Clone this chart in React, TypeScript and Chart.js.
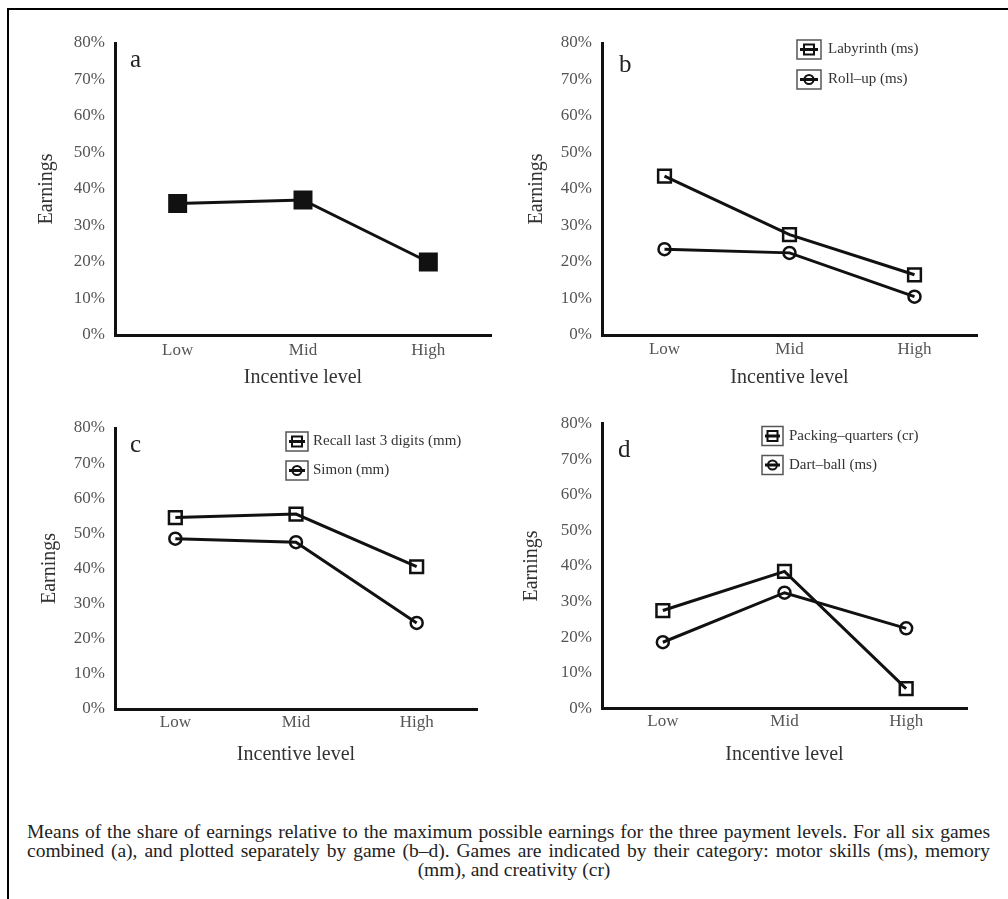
import React, { useEffect, useRef } from 'react';
import { Chart, registerables } from 'chart.js';

Chart.register(...registerables);

// ---------- data ----------
const CATEGORIES = ['Low', 'Mid', 'High'];
const Y_TICK_VALUES = [0, 10, 20, 30, 40, 50, 60, 70, 80];
const X_TITLE = 'Incentive level';
const Y_TITLE = 'Earnings';

const ALL_GAMES = [36, 37, 20];
const LABYRINTH = [43.5, 27.5, 16.5];
const ROLL_UP = [23.5, 22.5, 10.5];
const RECALL = [54.5, 55.5, 40.5];
const SIMON = [48.5, 47.5, 24.5];
const PACKING = [27.5, 38.5, 5.6];
const DART_BALL = [18.6, 32.5, 22.5];

const CAPTION_LINES = [
  'Means of the share of earnings relative to the maximum possible earnings for the three payment levels. For all six games',
  'combined (a), and plotted separately by game (b\u2013d). Games are indicated by their category: motor skills (ms), memory',
  '(mm), and creativity (cr)',
];

// ---------- styling ----------
const SERIF = "'Liberation Serif', 'Times New Roman', 'DejaVu Serif', serif";
const INK = '#111';
const TICK_COLOR = '#555';
const TITLE_COLOR = '#333';
const TITLE_SIZE = 20;
const TITLE_LH = TITLE_SIZE * 1.2;
const TICK_SIZE = 17;
const TICK_LH = TICK_SIZE * 1.2;

type Marker = 'filledSquare' | 'square' | 'circle';

interface SeriesSpec {
  label: string;
  data: number[];
  marker: Marker;
}

interface PanelSpec {
  left: number;
  top: number;
  w: number;
  h: number;
  area: { l: number; r: number; t: number; b: number };
  yTitleX: number;
  xTitleY: number;
  xTickY: number;
  letter: { text: string; x: number; y: number };
  legend?: { x: number; w: number; y: number; gap: number; textX: number };
  series: SeriesSpec[];
}

const PANELS: PanelSpec[] = [
  {
    left: 0, top: 0, w: 504, h: 400,
    area: { l: 115, r: 491, t: 43, b: 335 },
    yTitleX: 47, xTitleY: 378, xTickY: 351,
    letter: { text: 'a', x: 130, y: 67 },
    series: [{ label: 'All six games', data: ALL_GAMES, marker: 'filledSquare' }],
  },
  {
    left: 504, top: 0, w: 504, h: 400,
    area: { l: 98, r: 473, t: 43, b: 335 },
    yTitleX: 32.5, xTitleY: 378, xTickY: 350,
    letter: { text: 'b', x: 115, y: 72 },
    legend: { x: 293, w: 24, y: 49.5, gap: 30, textX: 324 },
    series: [
      { label: 'Labyrinth (ms)', data: LABYRINTH, marker: 'square' },
      { label: 'Roll\u2013up (ms)', data: ROLL_UP, marker: 'circle' },
    ],
  },
  {
    left: 0, top: 400, w: 504, h: 390,
    area: { l: 115, r: 477, t: 28, b: 309 },
    yTitleX: 50, xTitleY: 355, xTickY: 323,
    letter: { text: 'c', x: 130, y: 52 },
    legend: { x: 286, w: 22, y: 41.5, gap: 29, textX: 313 },
    series: [
      { label: 'Recall last 3 digits (mm)', data: RECALL, marker: 'square' },
      { label: 'Simon (mm)', data: SIMON, marker: 'circle' },
    ],
  },
  {
    left: 504, top: 400, w: 504, h: 390,
    area: { l: 98, r: 463, t: 23.5, b: 308.5 },
    yTitleX: 28, xTitleY: 355, xTickY: 321.7,
    letter: { text: 'd', x: 114, y: 57 },
    legend: { x: 258, w: 21, y: 36, gap: 29, textX: 285 },
    series: [
      { label: 'Packing\u2013quarters (cr)', data: PACKING, marker: 'square' },
      { label: 'Dart\u2013ball (ms)', data: DART_BALL, marker: 'circle' },
    ],
  },
];

// ---------- plugins ----------
const decorPlugin = {
  id: 'decor',
  afterDraw(chart: any, _args: any, opts: any) {
    const ctx = chart.ctx as CanvasRenderingContext2D;
    ctx.save();
    if (opts.letter) {
      ctx.font = `25px ${SERIF}`;
      ctx.fillStyle = '#222';
      ctx.textAlign = 'left';
      ctx.textBaseline = 'alphabetic';
      ctx.fillText(opts.letter.text, opts.letter.x, opts.letter.y);
    }
    const lg = opts.legend;
    if (lg) {
      chart.data.datasets.forEach((ds: any, i: number) => {
        const cy = lg.y + i * lg.gap;
        const bh = 19;
        ctx.lineWidth = 1.5;
        ctx.strokeStyle = '#555';
        ctx.strokeRect(lg.x, cy - bh / 2, lg.w, bh);
        ctx.lineWidth = 3;
        ctx.strokeStyle = INK;
        ctx.beginPath();
        ctx.moveTo(lg.x + 3, cy);
        ctx.lineTo(lg.x + lg.w - 3, cy);
        ctx.stroke();
        ctx.lineWidth = 2;
        const cx = lg.x + lg.w / 2;
        ctx.beginPath();
        if (ds.pointStyle === 'circle') {
          ctx.arc(cx, cy, 4.5, 0, Math.PI * 2);
        } else {
          ctx.rect(cx - 5, cy - 5, 10, 10);
        }
        ctx.stroke();
        ctx.font = `15px ${SERIF}`;
        ctx.fillStyle = '#333';
        ctx.textAlign = 'left';
        ctx.textBaseline = 'middle';
        ctx.fillText(ds.label, lg.textX, cy);
      });
    }
    ctx.restore();
  },
};

function buildConfig(spec: PanelSpec): any {
  const { area, w, h } = spec;
  const xScaleBottom = spec.xTitleY + TITLE_LH / 2;
  const datasets = spec.series.map((s) => {
    const filled = s.marker === 'filledSquare';
    const r = filled ? 12 : s.marker === 'circle' ? 6 : 9;
    return {
      label: s.label,
      data: s.data,
      borderColor: INK,
      borderWidth: 3,
      tension: 0,
      fill: false,
      pointStyle: s.marker === 'circle' ? 'circle' : 'rect',
      pointRadius: r,
      pointHoverRadius: r,
      pointBorderWidth: filled ? 2 : 2.5,
      pointBorderColor: INK,
      pointBackgroundColor: filled ? INK : 'rgba(0,0,0,0)',
      clip: false,
    };
  });
  return {
    type: 'line',
    data: { labels: CATEGORIES, datasets },
    plugins: [decorPlugin],
    options: {
      responsive: false,
      animation: false,
      events: [],
      layout: {
        autoPadding: false,
        padding: { left: 0, top: area.t, right: w - area.r, bottom: h - xScaleBottom },
      },
      plugins: {
        legend: { display: false },
        tooltip: { enabled: false },
        decor: { letter: spec.letter, legend: spec.legend },
      },
      scales: {
        x: {
          type: 'category',
          offset: true,
          grid: { display: false, drawTicks: false },
          border: { display: true, color: INK, width: 3 },
          ticks: {
            font: { family: SERIF, size: TICK_SIZE },
            color: TICK_COLOR,
            padding: spec.xTickY - area.b - TICK_LH / 2,
            maxRotation: 0,
          },
          title: {
            display: true,
            text: X_TITLE,
            font: { family: SERIF, size: TITLE_SIZE },
            color: TITLE_COLOR,
            padding: { top: 0, bottom: 0 },
          },
          afterFit: (s: any) => {
            s.height = xScaleBottom - area.b;
          },
        },
        y: {
          min: 0,
          max: 80,
          grid: { display: false, drawTicks: false },
          border: { display: true, color: INK, width: 3 },
          afterBuildTicks: (s: any) => {
            s.ticks = Y_TICK_VALUES.map((v) => ({ value: v }));
          },
          ticks: {
            font: { family: SERIF, size: TICK_SIZE },
            color: TICK_COLOR,
            padding: 10,
            callback: (v: any) => `${v}%`,
          },
          title: {
            display: true,
            text: Y_TITLE,
            font: { family: SERIF, size: TITLE_SIZE },
            color: TITLE_COLOR,
            padding: { top: spec.yTitleX - TITLE_LH / 2, bottom: 0 },
          },
          afterFit: (s: any) => {
            s.width = area.l;
          },
        },
      },
    },
  };
}

function Panel({ spec }: { spec: PanelSpec }) {
  const ref = useRef<HTMLCanvasElement>(null);
  useEffect(() => {
    if (!ref.current) return;
    const chart = new Chart(ref.current, buildConfig(spec));
    return () => chart.destroy();
  }, [spec]);
  return (
    <canvas
      ref={ref}
      width={spec.w}
      height={spec.h}
      style={{ position: 'absolute', left: spec.left, top: spec.top, width: spec.w, height: spec.h }}
    />
  );
}

export default function App() {
  const lineBase: React.CSSProperties = {
    position: 'absolute',
    left: 27,
    width: 963,
    fontFamily: SERIF,
    fontSize: 19.5,
    lineHeight: '20px',
    color: '#222',
    whiteSpace: 'nowrap',
  };
  return (
    <div
      style={{
        position: 'absolute',
        left: 0,
        top: 0,
        width: 1008,
        height: 899,
        overflow: 'hidden',
        background: '#fff',
      }}
    >
      <div
        style={{
          position: 'absolute',
          left: 7,
          top: 8,
          width: 1001,
          height: 891,
          borderTop: '2px solid #000',
          borderLeft: '2px solid #000',
          boxSizing: 'border-box',
        }}
      />
      {PANELS.map((p, i) => (
        <Panel key={i} spec={p} />
      ))}
      <div style={{ ...lineBase, top: 822, textAlign: 'justify', textAlignLast: 'justify' }}>
        {CAPTION_LINES[0]}
      </div>
      <div style={{ ...lineBase, top: 841, textAlign: 'justify', textAlignLast: 'justify' }}>
        {CAPTION_LINES[1]}
      </div>
      <div style={{ ...lineBase, top: 860, width: 974, textAlign: 'center' }}>{CAPTION_LINES[2]}</div>
    </div>
  );
}
